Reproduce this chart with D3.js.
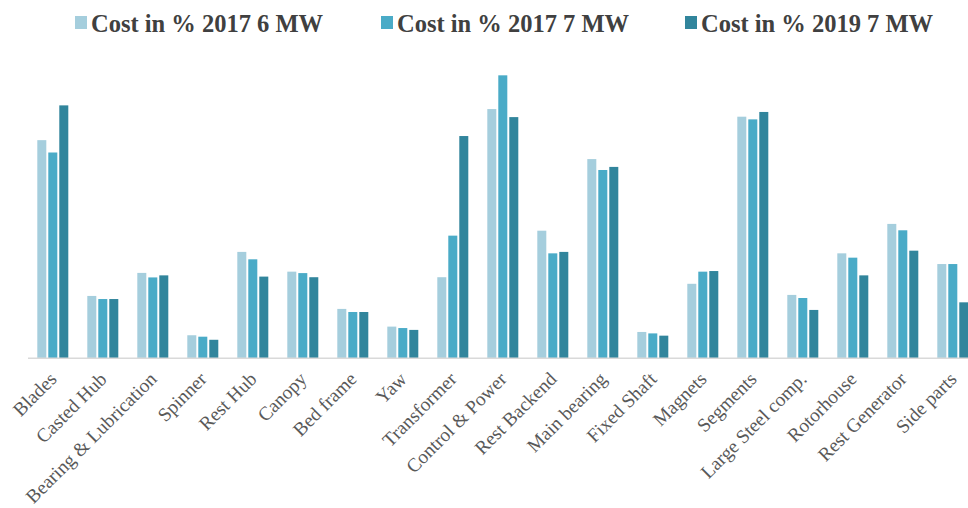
<!DOCTYPE html>
<html>
<head>
<meta charset="utf-8">
<script src="https://cdn.jsdelivr.net/npm/d3@7/dist/d3.min.js"></script>
<style>
  html, body { margin: 0; padding: 0; background: #fff; }
  svg { display: block; }
</style>
</head>
<body>
<svg id="chart" width="968" height="508"></svg>
<script>
// Component cost shares of a wind turbine, in percent
const categories = [
  "Blades", "Casted Hub", "Bearing & Lubrication", "Spinner", "Rest Hub",
  "Canopy", "Bed frame", "Yaw", "Transformer", "Control & Power",
  "Rest Backend", "Main bearing", "Fixed Shaft", "Magnets", "Segments",
  "Large Steel comp.", "Rotorhouse", "Rest Generator", "Side parts"
];
const seriesNames = ["Cost in % 2017 6 MW", "Cost in % 2017 7 MW", "Cost in % 2019 7 MW"];
const cost2017_6MW = [10.6, 3.03, 4.15, 1.12, 5.17, 4.21, 2.40, 1.54, 3.94, 12.11,
                      6.20, 9.68, 1.28, 3.62, 11.74, 3.08, 5.10, 6.53, 4.58];
const cost2017_7MW = [10.0, 2.88, 3.93, 1.05, 4.81, 4.14, 2.25, 1.47, 5.96, 13.75,
                      5.10, 9.15, 1.21, 4.21, 11.61, 2.93, 4.89, 6.22, 4.58];
const cost2019_7MW = [12.29, 2.88, 4.03, 0.90, 3.97, 3.94, 2.25, 1.38, 10.80, 11.72,
                      5.17, 9.30, 1.10, 4.24, 11.97, 2.35, 4.03, 5.23, 2.72];
const colors = ["#a5cedd", "#4aabc7", "#31859c"];

const seriesValues = [cost2017_6MW, cost2017_7MW, cost2019_7MW];
const rows = categories.map((c, i) => ({
  category: c,
  values: seriesNames.map((s, k) => ({ series: s, value: seriesValues[k][i] }))
}));

const svg = d3.select("#chart");
const baseline = 358.3;

const x0 = d3.scaleBand()
  .domain(categories)
  .range([27.8, 977.8])
  .paddingInner(0.38)
  .paddingOuter(0.19);

const x1 = d3.scaleBand()
  .domain(seriesNames)
  .range([0, x0.bandwidth()])
  .paddingInner(0.18);

const y = d3.scaleLinear()
  .domain([0, 14])
  .range([baseline, baseline - 14 * 20.58]);

const color = d3.scaleOrdinal().domain(seriesNames).range(colors);

// bars
const groups = svg.append("g")
  .selectAll("g")
  .data(rows)
  .join("g")
  .attr("transform", d => `translate(${x0(d.category)},0)`);

groups.selectAll("rect")
  .data(d => d.values)
  .join("rect")
  .attr("x", d => x1(d.series))
  .attr("y", d => y(d.value))
  .attr("width", x1.bandwidth())
  .attr("height", d => y(0) - y(d.value))
  .attr("fill", d => color(d.series));

// category axis
const xAxis = svg.append("g")
  .attr("transform", `translate(0,${baseline})`)
  .call(d3.axisBottom(x0).tickSize(0).tickPadding(0));

xAxis.select(".domain")
  .attr("d", `M28,0H968`)
  .attr("stroke", "#d9d9d9")
  .attr("stroke-width", 1.5);

xAxis.selectAll(".tick text")
  .attr("font-family", "'Liberation Serif', 'Times New Roman', serif")
  .attr("font-size", 19.3)
  .attr("fill", "#595959")
  .attr("text-anchor", "end")
  .attr("dy", 0)
  .attr("transform", "translate(5,22) rotate(-45)");

// legend
const legendX = [75, 381, 685];
const legend = svg.append("g")
  .selectAll("g")
  .data(seriesNames)
  .join("g")
  .attr("transform", (d, i) => `translate(${legendX[i]},0)`);

legend.append("rect")
  .attr("x", 0)
  .attr("y", 16)
  .attr("width", 12)
  .attr("height", 13)
  .attr("fill", d => color(d));

legend.append("text")
  .attr("x", 16)
  .attr("y", 32)
  .attr("font-family", "'Liberation Serif', 'Times New Roman', serif")
  .attr("font-weight", "bold")
  .attr("font-size", 24.5)
  .attr("fill", "#404040")
  .text(d => d);
</script>
</body>
</html>
